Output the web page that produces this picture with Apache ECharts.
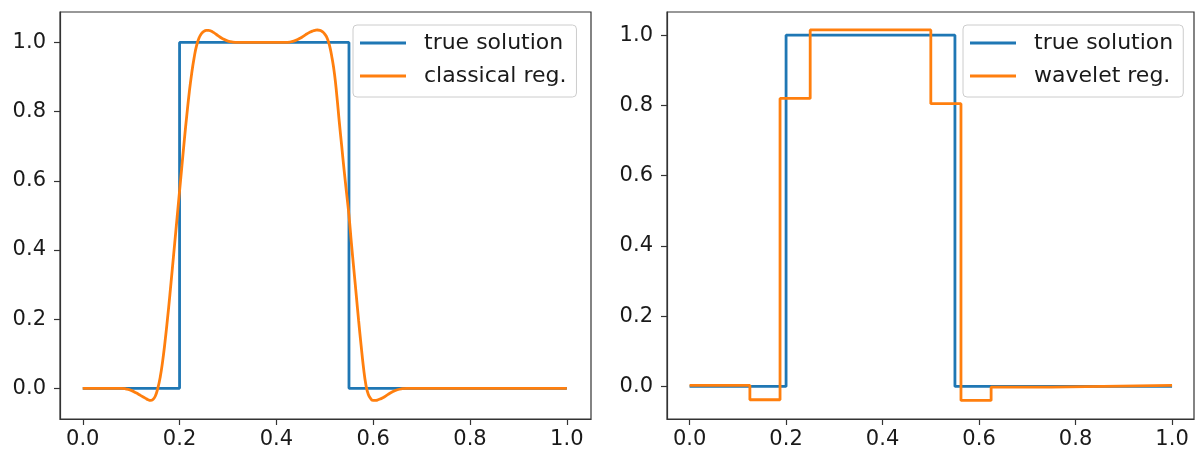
<!DOCTYPE html>
<html><head><meta charset="utf-8">
<script src="https://cdn.jsdelivr.net/npm/echarts@6/dist/echarts.min.js"></script>
<style>html,body{margin:0;padding:0;background:#fff}#c{width:1196px;height:452px}</style>
</head><body><div id="c"></div>
<script>
const xTicks = [0, 0.2, 0.4, 0.6, 0.8, 1.0];
const yTicks = [0, 0.2, 0.4, 0.6, 0.8, 1.0];

const trueEdges = [0, 0.2, 0.55, 1.0];
const trueValues = [0, 1, 0, 0];

const classicalX = [0, 0.08, 0.09, 0.10, 0.11, 0.12, 0.13,
  0.135, 0.14, 0.145, 0.15, 0.155, 0.16, 0.165, 0.17, 0.175, 0.18,
  0.185, 0.19, 0.195, 0.20, 0.205, 0.21, 0.215, 0.22, 0.225, 0.23,
  0.235, 0.24, 0.245, 0.25, 0.255, 0.26, 0.265, 0.27,
  0.28, 0.29, 0.30, 0.31, 0.32,
  0.42, 0.43, 0.44, 0.45, 0.46, 0.47,
  0.475, 0.48, 0.485, 0.49, 0.495, 0.50, 0.505, 0.51, 0.515, 0.52,
  0.525, 0.53, 0.535, 0.54, 0.545, 0.55, 0.555, 0.56, 0.565, 0.57,
  0.575, 0.58, 0.585, 0.59, 0.595, 0.60, 0.605, 0.61,
  0.62, 0.63, 0.64, 0.65, 0.66, 0.67, 1.0];
const classicalY = [0, 0, -0.002, -0.006, -0.013, -0.021, -0.029,
  -0.033, -0.035, -0.032, -0.022, 0.0, 0.032, 0.078, 0.135, 0.20, 0.27,
  0.345, 0.42, 0.495, 0.57, 0.645, 0.72, 0.79, 0.855, 0.91, 0.955,
  0.99, 1.012, 1.025, 1.032, 1.035, 1.035, 1.033, 1.029,
  1.019, 1.010, 1.004, 1.001, 1.0,
  1.0, 1.002, 1.006, 1.013, 1.022, 1.030,
  1.033, 1.035, 1.036, 1.035, 1.031, 1.024, 1.012, 0.99, 0.955, 0.91,
  0.845, 0.77, 0.70, 0.63, 0.565, 0.50, 0.42, 0.345, 0.27, 0.195,
  0.125, 0.06, 0.01, -0.018, -0.03, -0.035, -0.035, -0.033,
  -0.027, -0.018, -0.010, -0.004, -0.001, 0, 0];

const waveletEdges = [0, 0.125, 0.1875, 0.25, 0.5, 0.5625, 0.625, 0.75, 1.0];
const waveletValues = [0.003, -0.038, 0.82, 1.015, 0.805, -0.04, -0.002, 0.003, 0.003];

const FONT = 'DejaVu Sans';
const AX = '#333';
const TXT = '#1a1a1a';
const BLUE = '#1f77b4', ORANGE = '#ff7f0e';

function mkX(gi, min, max) {
  return {
    type: 'value', gridIndex: gi, min: min, max: max,
    axisLine: {show: true, onZero: false, lineStyle: {color: AX, width: 1.2}},
    splitLine: {show: false},
    axisTick: {show: true, length: 6, customValues: xTicks, lineStyle: {color: AX, width: 1.2}},
    axisLabel: {customValues: xTicks, formatter: v => v.toFixed(1), fontSize: 21, color: TXT, fontFamily: FONT, margin: 10}
  };
}
function mkY(gi, min, max) {
  return {
    type: 'value', gridIndex: gi, min: min, max: max,
    axisLine: {show: true, onZero: false, lineStyle: {color: AX, width: 1.2}},
    splitLine: {show: false},
    axisTick: {show: true, length: 6, customValues: yTicks, lineStyle: {color: AX, width: 1.2}},
    axisLabel: {customValues: yTicks, formatter: v => v.toFixed(1), fontSize: 21, color: TXT, fontFamily: FONT, margin: 14}
  };
}
function mkLegend(names, left) {
  return {
    data: names, orient: 'vertical', left: left, top: 25,
    padding: [4, 10, 7, 7], itemGap: 5, itemWidth: 46, itemHeight: 3, icon: 'rect',
    backgroundColor: 'rgba(255,255,255,0.8)', borderColor: '#cccccc', borderWidth: 1, borderRadius: 4,
    textStyle: {fontSize: 22, lineHeight: 28, fontFamily: FONT, color: TXT, padding: [0, 0, 0, 13]},
    selectedMode: false
  };
}
function line(name, xi, xs, ys, color, extra) {
  return Object.assign({
    type: 'line', name: name, xAxisIndex: xi, yAxisIndex: xi,
    data: xs.map((x, i) => [x, ys[i]]),
    symbol: 'none', showSymbol: false,
    lineStyle: {color: color, width: 2.8}, itemStyle: {color: color},
    animation: false
  }, extra || {});
}

const chart = echarts.init(document.getElementById('c'));
chart.setOption({
  animation: false,
  grid: [
    {left: 60, top: 12, width: 531, height: 407, show: true, borderColor: AX, borderWidth: 1.2, backgroundColor: 'transparent'},
    {left: 667, top: 12, width: 527, height: 407, show: true, borderColor: AX, borderWidth: 1.2, backgroundColor: 'transparent'}
  ],
  xAxis: [mkX(0, -0.047, 1.05), mkX(1, -0.0468, 1.0455)],
  yAxis: [mkY(0, -0.0886, 1.088), mkY(1, -0.0928, 1.066)],
  legend: [mkLegend(['true solution', 'classical reg.'], 353), mkLegend(['true solution', 'wavelet reg.'], 963)],
  series: [
    line('true solution', 0, trueEdges, trueValues, BLUE, {step: 'end'}),
    line('classical reg.', 0, classicalX, classicalY, ORANGE, {smooth: true}),
    line('true solution', 1, trueEdges, trueValues, BLUE, {step: 'end'}),
    line('wavelet reg.', 1, waveletEdges, waveletValues, ORANGE, {step: 'end'})
  ]
});
</script>
</body></html>
